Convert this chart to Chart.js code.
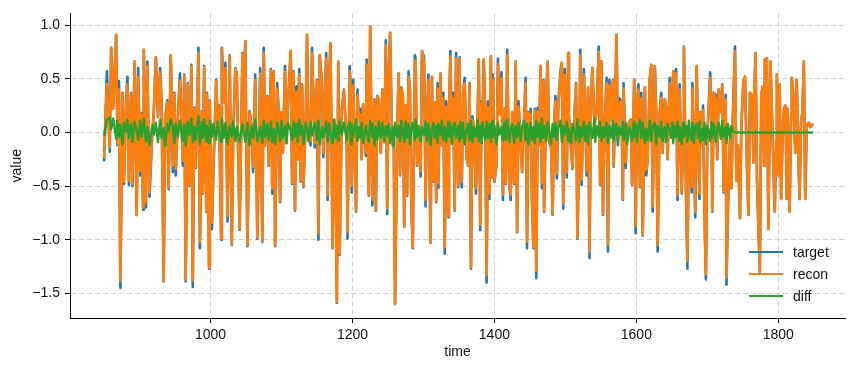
<!DOCTYPE html>
<html>
<head>
<meta charset="utf-8">
<script src="https://cdn.jsdelivr.net/npm/chart.js@4.4.1/dist/chart.umd.min.js"></script>
<style>
  html, body { margin: 0; padding: 0; background: #fff; }
  #wrap { width: 855px; height: 372px; position: relative; }
</style>
</head>
<body>
<div id="wrap"><canvas id="chart"></canvas></div>
<script>
// time steps (picked at the turning points of the trace)
var times = [
  850,854,858,860,863,867,869,871,873,876,878,881,883,885,888,890,893,896,898,901,903,905,906,909,911,914,918,920,923,926,929,931,934,936,939,941,944,
  947,949,951,954,957,961,963,965,968,970,973,975,977,979,983,985,988,989,991,994,995,998,999,1002,1004,1008,1010,1012,1015,1016,1019,1021,1024,1027,1030,1032,1035,1037,1041,1045,
  1046,1049,1052,1055,1058,1060,1063,1066,1070,1073,1075,1077,1080,1082,1085,1087,1089,1091,1094,1096,1098,1100,1102,1105,1107,1109,1113,1115,1117,1119,1121,1123,1125,1127,1129,1131,1134,1136,1138,1141,1143,
  1147,1150,1152,1154,1157,1159,1163,1165,1167,1169,1172,1174,1176,1178,1180,1182,1185,1188,1192,1193,1196,1198,1199,1201,1205,1207,1209,1211,1213,1215,1219,1220,1223,1225,1228,1229,1231,1233,1235,1237,1240,1242,1245,1247,1249,
  1251,1253,1256,1258,1260,1263,1265,1267,1269,1271,1273,1275,1277,1279,1281,1283,1285,1288,1289,1291,1293,1296,1298,1301,1303,1305,1307,1310,1312,1314,1316,1318,1320,1321,1324,1326,1328,1330,1332,1335,1336,1338,1340,1342,1344,1346,1349,
  1351,1352,1354,1356,1358,1361,1363,1365,1367,1369,1371,1374,1376,1378,1380,1382,1383,1385,1387,1389,1391,1393,1395,1397,1398,1400,1403,1405,1407,1410,1412,1414,1416,1418,1421,1423,1425,1428,1430,1432,1434,1437,1439,1442,1444,1446,1448,1450,
  1451,1453,1455,1457,1459,1461,1463,1465,1467,1469,1470,1473,1475,1477,1480,1482,1484,1486,1488,1490,1493,1495,1497,1499,1502,1504,1505,1508,1510,1513,1515,1517,1520,1521,1523,1526,1528,1530,1532,1534,1536,1538,1541,1542,1544,1547,1549,1551,1553,
  1555,1558,1560,1562,1565,1567,1568,1570,1572,1574,1576,1579,1581,1582,1585,1587,1590,1592,1594,1596,1597,1599,1601,1603,1605,1607,1609,1612,1614,1616,1619,1621,1623,1626,1628,1630,1633,1635,1637,1640,1642,1644,1647,1649,1651,1652,1654,1656,
  1658,1660,1661,1664,1666,1667,1670,1672,1674,1675,1678,1679,1681,1683,1685,1687,1689,1690,1692,1694,1696,1698,1700,1702,1704,1706,1707,1709,1712,1714,1716,1719,1721,1723,1726,1727,1729,1732,1734,1736,1739,1741,1743,1746,1748,
  1751,1753,1756,1758,1760,1763,1765,1766,1768,1770,1772,1774,1776,1778,1780,1781,1784,1786,1789,1791,1793,1795,1797,1798,1800,1802,1804,1806,1808,1810,1812,1813,1816,1818,1819,1821,1824,1826,1828,1830,1832,1834,1836,1838,1840,1843,1845,1849
];

var target = [
  -0.27,0.57,-0.18,0.79,0.25,0.91,-0.12,0.48,-1.45,0.37,-0.48,0.30,0.52,-0.49,0.37,-0.50,0.66,-0.77,0.60,-0.40,0.18,-0.72,0.77,-0.70,0.66,-0.60,0.00,0.18,0.70,0.15,0.60,0.30,-1.39,0.12,0.30,-0.53,0.72,
  -0.37,0.37,-0.40,0.15,0.55,-0.31,0.54,-1.39,0.46,-0.50,0.63,-1.44,0.23,-0.33,0.79,-1.08,0.20,-0.57,0.62,-0.74,0.37,-1.27,0.30,-0.90,-0.37,0.49,0.09,0.25,-1.00,0.79,0.29,0.65,-0.83,0.72,-1.05,0.00,0.60,0.55,-0.91,0.74,
  0.00,0.85,-1.06,0.20,0.05,-0.37,0.54,-0.99,0.60,-1.02,0.79,-0.12,0.34,-0.31,0.59,-0.57,0.57,-1.06,0.46,0.20,-0.65,0.19,-0.19,0.62,-0.10,0.25,0.76,-0.48,0.57,-0.73,0.43,-0.25,0.59,-0.46,0.45,-0.51,0.08,0.91,-0.03,-0.12,0.79,
  -0.14,0.49,-1.00,0.72,0.46,-0.23,0.74,-0.63,0.48,0.83,-1.08,0.12,-0.12,-1.59,0.66,-1.14,0.22,0.40,-0.12,-0.99,0.62,0.37,-0.56,0.49,-0.74,0.40,0.15,0.22,-0.25,0.26,-0.22,0.68,-0.59,0.99,-0.68,-0.09,0.31,-0.73,0.34,0.31,-0.19,0.40,-0.09,0.86,-0.76,
  0.55,0.93,-0.12,0.05,-1.60,0.00,0.55,-0.40,0.42,0.34,-0.88,0.25,-0.59,0.57,0.40,-0.69,-1.08,0.72,0.68,-0.31,0.05,-0.41,0.76,0.70,-0.69,0.17,0.54,-1.03,0.52,-0.46,0.28,-0.65,0.46,-0.52,0.55,-0.12,0.37,-1.13,0.29,-0.79,0.19,0.76,-0.06,0.37,-0.73,0.74,-0.51,
  0.70,-0.25,-0.51,0.37,0.51,-0.25,-0.31,0.46,-1.27,0.15,0.06,-0.57,0.03,0.68,-0.91,0.29,0.06,0.68,0.19,-1.40,0.29,-0.62,0.71,-0.42,0.54,-0.46,-0.31,0.69,0.17,0.56,-0.63,0.22,-0.48,0.77,-0.49,-0.63,0.19,-0.48,0.66,-0.93,0.29,-0.12,-0.37,0.17,0.51,-1.08,0.19,-0.03,
  0.22,-0.65,-1.08,0.22,-1.36,0.23,-0.12,0.62,-0.52,0.49,-0.74,0.37,0.66,-0.09,-0.15,-0.77,0.06,0.34,-0.43,0.25,0.57,0.65,-0.71,0.59,-0.42,0.74,0.15,-0.15,-0.34,0.19,0.46,-0.99,0.05,0.77,-0.49,0.59,0.19,-0.40,0.42,-1.17,0.28,0.60,0.09,0.14,0.19,0.80,-0.49,0.66,-0.77,
  0.00,0.51,-1.11,0.49,0.12,0.49,-0.32,0.19,0.91,-0.12,0.32,0.29,-0.63,0.46,-0.33,0.06,0.09,0.12,-0.49,0.19,0.49,-0.94,0.28,0.45,-0.51,0.37,-0.96,0.42,-0.40,-0.25,0.51,0.63,-0.74,0.62,0.19,-1.11,0.19,0.37,-0.19,0.31,0.23,-0.25,0.51,-0.03,0.40,0.57,0.05,0.59,
  -0.63,0.14,0.45,-0.57,0.03,0.80,-0.57,-1.27,0.06,-0.09,-0.56,0.46,-0.12,-0.79,0.62,-0.15,-0.62,0.19,-0.12,0.25,-0.77,-1.37,-0.03,0.25,0.56,0.09,-0.74,0.37,0.35,-0.25,0.40,0.19,0.45,-0.56,0.35,-1.42,-0.74,-0.06,-0.52,0.15,0.80,-0.45,-0.12,-0.80,0.06,
  0.49,0.52,-0.34,-0.77,0.37,0.34,-0.28,0.34,0.74,-0.43,-0.89,-1.30,0.34,0.43,-0.31,0.68,0.69,-0.90,0.66,0.19,-0.31,-0.74,-0.08,0.54,-0.40,0.45,-0.62,-0.06,0.22,0.25,-0.62,0.22,-0.74,0.15,0.51,0.37,-0.19,0.49,-0.12,-0.62,0.09,0.19,0.66,-0.62,0.06,0.09,0.05,0.08
];

var recon = [
  -0.24,0.45,-0.14,0.79,0.22,0.91,-0.10,0.40,-1.38,0.36,-0.46,0.28,0.45,-0.45,0.36,-0.48,0.66,-0.77,0.52,-0.36,0.17,-0.70,0.77,-0.65,0.62,-0.56,0.00,0.17,0.70,0.14,0.56,0.28,-1.39,0.12,0.28,-0.51,0.72,
  -0.31,0.36,-0.34,0.14,0.48,-0.26,0.53,-1.37,0.45,-0.49,0.62,-1.38,0.22,-0.32,0.74,-1.02,0.19,-0.56,0.61,-0.73,0.36,-1.26,0.29,-0.84,-0.36,0.48,0.09,0.24,-0.99,0.78,0.28,0.60,-0.78,0.71,-1.04,0.00,0.59,0.54,-0.90,0.73,
  0.00,0.85,-1.05,0.19,0.05,-0.32,0.49,-0.98,0.55,-1.01,0.74,-0.12,0.33,-0.30,0.58,-0.52,0.56,-1.05,0.41,0.19,-0.64,0.19,-0.19,0.57,-0.10,0.25,0.76,-0.47,0.56,-0.72,0.38,-0.25,0.54,-0.45,0.44,-0.50,0.08,0.91,-0.03,-0.08,0.74,
  -0.10,0.48,-0.94,0.72,0.45,-0.19,0.69,-0.58,0.47,0.83,-1.07,0.12,-0.12,-1.58,0.66,-1.13,0.22,0.39,-0.12,-0.93,0.57,0.36,-0.50,0.44,-0.73,0.35,0.15,0.17,-0.25,0.26,-0.19,0.63,-0.58,0.99,-0.63,-0.09,0.30,-0.72,0.33,0.31,-0.19,0.39,-0.09,0.81,-0.71,
  0.50,0.93,-0.12,0.05,-1.60,0.00,0.55,-0.39,0.41,0.34,-0.88,0.25,-0.58,0.52,0.39,-0.68,-1.07,0.67,0.67,-0.30,0.05,-0.36,0.76,0.65,-0.63,0.17,0.49,-1.03,0.52,-0.45,0.28,-0.64,0.41,-0.47,0.55,-0.12,0.32,-1.07,0.24,-0.78,0.19,0.71,-0.06,0.32,-0.72,0.69,-0.50,
  0.69,-0.25,-0.46,0.36,0.46,-0.24,-0.30,0.45,-1.26,0.12,0.06,-0.52,0.03,0.68,-0.86,0.27,0.06,0.68,0.19,-1.33,0.24,-0.57,0.71,-0.41,0.49,-0.45,-0.30,0.64,0.17,0.51,-0.58,0.22,-0.47,0.72,-0.48,-0.58,0.19,-0.47,0.66,-0.92,0.24,-0.12,-0.36,0.17,0.46,-1.02,0.19,-0.03,
  0.17,-0.64,-1.07,0.21,-1.29,0.19,-0.12,0.62,-0.47,0.48,-0.73,0.36,0.66,-0.06,-0.15,-0.76,0.06,0.29,-0.38,0.25,0.52,0.65,-0.66,0.54,-0.37,0.74,0.15,-0.15,-0.33,0.19,0.45,-0.98,0.05,0.72,-0.44,0.54,0.19,-0.35,0.42,-1.11,0.27,0.60,0.09,0.10,0.19,0.75,-0.48,0.66,-0.76,
  0.00,0.46,-1.05,0.44,0.12,0.49,-0.31,0.19,0.91,-0.08,0.27,0.29,-0.62,0.41,-0.28,0.06,0.09,0.12,-0.48,0.14,0.49,-0.87,0.28,0.40,-0.50,0.32,-0.95,0.42,-0.35,-0.24,0.51,0.63,-0.69,0.62,0.19,-1.05,0.19,0.32,-0.19,0.31,0.23,-0.25,0.46,-0.03,0.36,0.57,0.05,0.55,
  -0.58,0.14,0.40,-0.56,0.03,0.80,-0.56,-1.20,0.06,-0.09,-0.51,0.41,-0.12,-0.74,0.62,-0.15,-0.57,0.19,-0.12,0.21,-0.76,-1.32,-0.03,0.25,0.51,0.09,-0.73,0.37,0.30,-0.25,0.40,0.19,0.44,-0.55,0.31,-1.35,-0.70,-0.06,-0.52,0.15,0.76,-0.45,-0.12,-0.80,0.06,
  0.49,0.52,-0.34,-0.77,0.37,0.34,-0.28,0.34,0.74,-0.43,-0.89,-1.30,0.34,0.43,-0.31,0.68,0.69,-0.90,0.66,0.19,-0.31,-0.74,-0.08,0.54,-0.40,0.45,-0.62,-0.06,0.22,0.25,-0.62,0.22,-0.74,0.15,0.51,0.37,-0.19,0.49,-0.12,-0.62,0.09,0.19,0.66,-0.62,0.06,0.09,0.05,0.08
];

var diff = [
  -0.03,0.12,0.14,0.03,0.13,-0.06,0.11,-0.04,0.07,-0.11,0.09,0.01,0.12,-0.05,0.08,-0.09,0.10,0.02,-0.07,0.11,-0.04,0.08,0.13,-0.08,0.05,-0.12,0.07,-0.02,0.09,-0.09,0.12,-0.05,0.04,-0.13,0.08,0.01,0.12,
  0.05,-0.10,0.08,-0.04,0.11,-0.08,0.07,-0.12,0.10,-0.02,0.13,-0.09,0.05,-0.07,0.15,-0.11,0.09,-0.05,0.12,-0.08,0.06,-0.10,0.11,-0.04,0.08,-0.07,0.10,0.00,-0.09,0.13,-0.05,0.09,-0.11,0.06,-0.04,0.10,-0.08,0.05,-0.09,0.08,
  0.03,-0.09,0.09,-0.12,0.06,-0.05,0.12,-0.08,0.05,-0.10,0.11,-0.04,0.08,-0.07,0.10,-0.09,0.03,-0.11,0.09,0.01,-0.08,0.11,-0.05,0.06,-0.10,0.09,0.02,-0.07,0.10,-0.04,0.08,-0.09,0.12,-0.02,0.06,-0.11,0.09,0.03,-0.08,0.10,-0.03,
  0.09,-0.07,0.11,-0.11,0.05,-0.04,0.10,-0.09,0.08,0.00,-0.10,0.12,-0.05,0.06,-0.08,0.11,-0.02,0.09,-0.07,0.03,0.10,-0.11,0.08,-0.04,0.12,-0.08,0.05,-0.05,0.09,-0.10,0.06,0.01,-0.09,0.11,-0.04,0.08,-0.12,0.05,-0.07,0.10,-0.05,0.09,-0.08,0.06,-0.03,
  0.08,-0.10,0.05,-0.13,0.09,-0.04,0.06,-0.08,0.11,0.00,-0.09,0.10,-0.05,0.08,-0.11,0.03,0.09,-0.07,0.12,-0.04,0.06,-0.09,0.05,-0.02,0.10,-0.08,0.08,-0.12,0.03,0.09,-0.05,0.06,-0.10,0.08,-0.02,0.11,-0.07,0.05,-0.09,0.10,-0.04,0.08,-0.11,0.05,0.09,-0.05,0.06,
  -0.08,0.10,-0.05,0.09,-0.11,0.03,0.08,-0.07,0.11,-0.09,0.05,-0.04,0.12,-0.08,0.06,-0.10,0.09,0.00,-0.07,0.10,-0.05,0.08,-0.09,0.11,-0.04,0.06,-0.11,0.09,-0.02,0.05,-0.08,0.10,-0.07,0.12,-0.09,0.03,0.08,-0.10,0.06,-0.04,0.09,-0.08,0.05,0.11,-0.07,0.08,-0.11,0.03,
  0.09,-0.07,0.05,-0.10,0.11,-0.04,0.08,-0.09,0.13,-0.05,0.06,-0.08,0.10,0.02,-0.11,0.08,-0.04,0.09,-0.07,0.05,0.11,-0.09,0.06,-0.02,0.10,-0.08,0.03,-0.10,0.08,0.00,-0.07,0.12,-0.09,0.05,-0.04,0.10,-0.08,0.06,-0.11,0.09,0.02,-0.05,0.13,-0.09,0.06,-0.04,0.10,-0.08,0.05,
  -0.04,0.09,-0.10,0.06,-0.05,0.11,-0.08,0.03,0.08,-0.09,0.05,-0.02,0.10,-0.07,0.09,-0.11,0.05,0.00,-0.08,0.10,-0.04,0.08,-0.09,0.06,0.12,-0.05,0.09,-0.10,0.03,-0.07,0.11,-0.08,0.05,0.09,-0.11,0.06,-0.04,0.10,-0.08,0.05,-0.09,0.08,0.02,-0.05,0.09,-0.10,0.06,-0.04,
  0.10,-0.08,0.05,-0.11,0.09,-0.04,0.06,-0.09,0.11,0.00,-0.07,0.09,-0.10,0.05,0.08,-0.05,0.10,-0.09,0.03,-0.07,0.09,-0.11,0.06,0.02,-0.08,0.10,-0.05,0.08,-0.09,0.03,0.09,-0.06,0.11,-0.04,0.05,-0.10,0.08,-0.05,0.06,0.01,0.00,0.00,0.00,0.00,0.00,
  0,0,0,0,0,0,0,0,0,0,0,0,0,0,0,0,0,0,0,0,0,0,0,0,0,0,0,0,0,0,0,0,0,0,0,0,0,0,0,0,0,0,0,0,0,0,0,0
];

var seriesNames = ['target', 'recon', 'diff'];
var seriesColors = ['#1f77b4', '#ff7f0e', '#2ca02c'];
var xTicks = [1000, 1200, 1400, 1600, 1800];
var yTicks = [-1.5, -1.0, -0.5, 0.0, 0.5, 1.0];

var FONT = "'Liberation Sans', Arial, sans-serif";

function pts(vals) {
  return times.map(function (t, i) { return { x: t, y: vals[i] }; });
}

// matplotlib-like legend in the lower right, no frame
var legendPlugin = {
  id: 'mplLegend',
  afterDraw: function (chart) {
    var ctx = chart.ctx;
    ctx.save();
    ctx.font = '14px ' + FONT;
    ctx.textBaseline = 'middle';
    ctx.fillStyle = '#111';
    var ys = [252, 274, 296];
    for (var i = 0; i < seriesNames.length; i++) {
      ctx.strokeStyle = seriesColors[i];
      ctx.lineWidth = 2.2;
      ctx.beginPath();
      ctx.moveTo(749, ys[i]);
      ctx.lineTo(783, ys[i]);
      ctx.stroke();
      ctx.fillText(seriesNames[i], 793, ys[i] + 1);
    }
    ctx.restore();
  }
};

var gridOpts = {
  color: '#d2d2d2',
  lineWidth: 1,
  borderDash: [5, 3],
  tickColor: '#000',
  tickLength: 5,
  tickWidth: 1,
  tickBorderDash: []
};

function lineSet(name, vals, i, width) {
  return {
    label: name, data: pts(vals), borderColor: seriesColors[i], borderWidth: width,
    pointRadius: 0, tension: 0, fill: false, borderJoinStyle: 'round', order: 3 - i
  };
}

var config = {
  type: 'line',
  data: {
    datasets: [
      lineSet('target', target, 0, 2.6),
      lineSet('recon', recon, 1, 2.6),
      lineSet('diff', diff, 2, 2.4)
    ]
  },
  options: {
    responsive: true,
    maintainAspectRatio: false,
    animation: false,
    devicePixelRatio: 1,
    layout: { padding: { top: 10, right: 10, left: 0, bottom: 0 } },
    plugins: { legend: { display: false }, tooltip: { enabled: false } },
    scales: {
      x: {
        type: 'linear',
        min: 802,
        max: 1894,
        afterBuildTicks: function (s) { s.ticks = xTicks.map(function (v) { return { value: v }; }); },
        afterFit: function (s) { s.height = 54; },
        grid: gridOpts,
        border: { display: true, color: '#000', width: 1, dash: [5, 3] },
        ticks: { color: '#111', font: { family: FONT, size: 14 }, padding: 4, maxRotation: 0,
                 callback: function (v) { return String(v); } },
        title: { display: true, text: 'time', color: '#111', font: { family: FONT, size: 14 }, padding: { top: 0, bottom: 11 } }
      },
      y: {
        type: 'linear',
        min: -1.73,
        max: 1.11,
        afterBuildTicks: function (s) { s.ticks = yTicks.map(function (v) { return { value: v }; }); },
        afterFit: function (s) { s.width = 70; },
        grid: gridOpts,
        border: { display: true, color: '#000', width: 1, dash: [5, 3] },
        ticks: {
          color: '#111',
          font: { family: FONT, size: 14 },
          padding: 5,
          callback: function (v) { return v.toFixed(1).replace('-', '\u2212'); }
        },
        title: { display: true, text: 'value', color: '#111', font: { family: FONT, size: 14 }, padding: { top: 9, bottom: 0 } }
      }
    }
  },
  plugins: [legendPlugin]
};

var chart = new Chart(document.getElementById('chart'), config);
</script>
</body>
</html>
